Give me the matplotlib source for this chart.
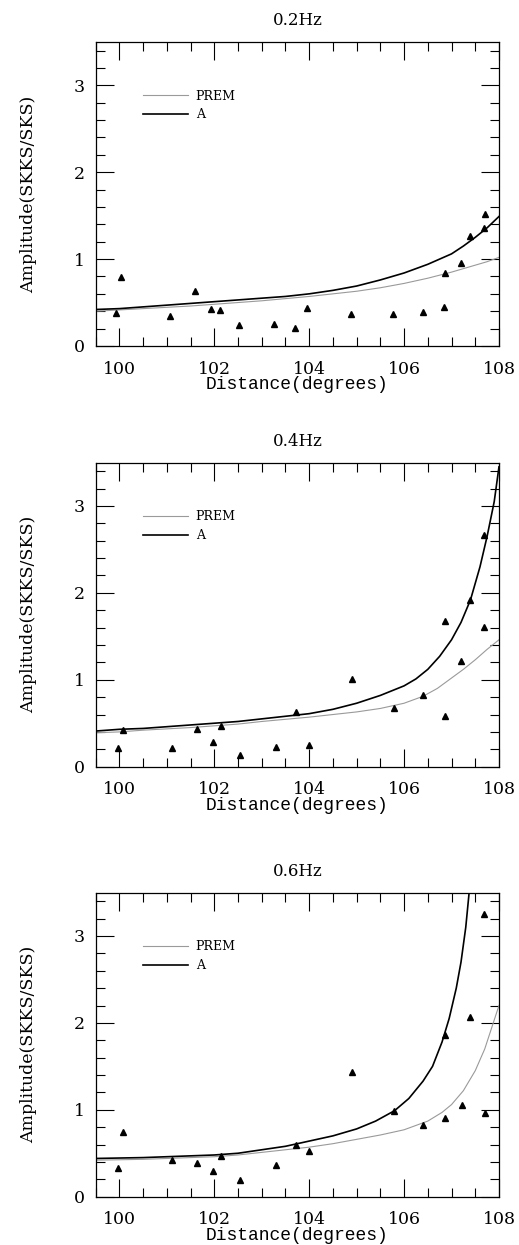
import matplotlib.pyplot as plt
from matplotlib.ticker import MultipleLocator

# observed SKKS/SKS amplitude ratios, three frequency bands
titles = ["0.2Hz", "0.4Hz", "0.6Hz"]

obs_x_02 = [99.92, 100.04, 101.07, 101.59, 101.94, 102.11, 102.51, 103.25, 103.70, 103.96,
            104.88, 105.76, 106.39, 106.84, 106.87, 107.20, 107.39, 107.68, 107.70]
obs_y_02 = [0.38, 0.79, 0.35, 0.63, 0.42, 0.41, 0.24, 0.25, 0.21, 0.44,
            0.37, 0.37, 0.39, 0.45, 0.84, 0.96, 1.27, 1.36, 1.52]

obs_x_04 = [99.97, 100.08, 101.11, 101.63, 101.98, 102.14, 102.54, 103.29, 103.73, 103.99,
            104.90, 105.78, 106.39, 106.86, 106.86, 107.21, 107.38, 107.68, 107.68]
obs_y_04 = [0.21, 0.42, 0.22, 0.43, 0.28, 0.47, 0.13, 0.23, 0.63, 0.25,
            1.01, 0.68, 0.83, 1.68, 0.58, 1.22, 1.92, 1.61, 2.67]

obs_x_06 = [99.96, 100.07, 101.11, 101.63, 101.97, 102.14, 102.54, 103.29, 103.73, 103.99,
            104.90, 105.79, 106.40, 106.87, 106.87, 107.23, 107.39, 107.70, 107.69]
obs_y_06 = [0.33, 0.75, 0.42, 0.39, 0.29, 0.47, 0.19, 0.36, 0.60, 0.53,
            1.44, 0.99, 0.82, 0.90, 1.86, 1.06, 2.07, 0.96, 3.25]

# model curves
prem_x_02 = [99.5, 100.0, 100.5, 101.0, 101.5, 102.0, 102.5, 103.0, 103.5, 104.0, 104.5,
             105.0, 105.5, 106.0, 106.5, 107.0, 107.25, 107.5, 107.75, 108.0]
prem_y_02 = [0.40, 0.415, 0.43, 0.445, 0.46, 0.48, 0.50, 0.52, 0.545, 0.57, 0.60,
             0.63, 0.67, 0.72, 0.78, 0.85, 0.89, 0.93, 0.97, 1.02]
a_x_02 = [99.5, 100.0, 100.5, 101.0, 101.5, 102.0, 102.5, 103.0, 103.5, 104.0, 104.5,
          105.0, 105.5, 106.0, 106.5, 107.0, 107.25, 107.5, 107.75, 108.0]
a_y_02 = [0.42, 0.43, 0.45, 0.47, 0.49, 0.51, 0.53, 0.55, 0.57, 0.60, 0.64,
          0.69, 0.76, 0.84, 0.94, 1.06, 1.15, 1.25, 1.36, 1.49]

prem_x_04 = [99.5, 100.0, 100.5, 101.0, 101.5, 102.0, 102.5, 103.0, 103.5, 104.0, 104.5,
             105.0, 105.5, 106.0, 106.4, 106.7, 107.0, 107.25, 107.5, 107.75, 108.0]
prem_y_04 = [0.39, 0.40, 0.42, 0.435, 0.45, 0.47, 0.49, 0.52, 0.545, 0.57, 0.60,
             0.63, 0.67, 0.73, 0.81, 0.90, 1.02, 1.12, 1.23, 1.35, 1.46]
a_x_04 = [99.5, 100.0, 100.5, 101.0, 101.5, 102.0, 102.5, 103.0, 103.5, 104.0, 104.5,
          105.0, 105.5, 106.0, 106.25, 106.5, 106.75, 107.0, 107.2, 107.4, 107.6,
          107.75, 107.9, 108.0]
a_y_04 = [0.41, 0.43, 0.44, 0.46, 0.48, 0.50, 0.52, 0.55, 0.58, 0.61, 0.66,
          0.73, 0.82, 0.93, 1.01, 1.12, 1.27, 1.46, 1.66, 1.92, 2.30,
          2.65, 3.05, 3.45]

prem_x_06 = [99.5, 100.0, 100.5, 101.0, 101.5, 102.0, 102.5, 103.0, 103.5, 104.0, 104.5,
             105.0, 105.5, 106.0, 106.5, 106.8, 107.0, 107.25, 107.5, 107.7, 107.85, 108.0]
prem_y_06 = [0.42, 0.425, 0.43, 0.44, 0.45, 0.46, 0.48, 0.51, 0.54, 0.57, 0.61,
             0.66, 0.71, 0.77, 0.87, 0.97, 1.06, 1.22, 1.45, 1.70, 1.95, 2.20]
a_x_06 = [99.5, 100.0, 100.5, 101.0, 101.5, 102.0, 102.5, 103.0, 103.5, 104.0, 104.5,
          105.0, 105.4, 105.8, 106.1, 106.4, 106.6, 106.8, 106.95, 107.1, 107.2,
          107.3, 107.38]
a_y_06 = [0.44, 0.445, 0.45, 0.46, 0.47, 0.48, 0.50, 0.54, 0.58, 0.64, 0.70,
          0.78, 0.87, 0.99, 1.13, 1.33, 1.50, 1.78, 2.05, 2.40, 2.70,
          3.10, 3.55]

obs_x = [obs_x_02, obs_x_04, obs_x_06]
obs_y = [obs_y_02, obs_y_04, obs_y_06]
prem_x = [prem_x_02, prem_x_04, prem_x_06]
prem_y = [prem_y_02, prem_y_04, prem_y_06]
a_x = [a_x_02, a_x_04, a_x_06]
a_y = [a_y_02, a_y_04, a_y_06]

plt.rcParams['font.family'] = ['DejaVu Serif']

fig = plt.figure(figsize=(5.19, 12.45), dpi=100)
bottoms = [0.7221, 0.3842, 0.0388]

for i in range(3):
    ax = fig.add_axes([0.1844, bottoms[i], 0.777, 0.2443])
    ax.plot(prem_x[i], prem_y[i], color='#9a9a9a', lw=0.8, label="PREM")
    ax.plot(a_x[i], a_y[i], color='black', lw=1.2, label="A")
    ax.plot(obs_x[i], obs_y[i], '^', color='black', ms=5, ls='none')

    ax.set_xlim(99.5, 108)
    ax.set_ylim(0, 3.5)
    ax.xaxis.set_major_locator(MultipleLocator(2))
    ax.xaxis.set_minor_locator(MultipleLocator(0.5))
    ax.yaxis.set_major_locator(MultipleLocator(1))
    ax.yaxis.set_minor_locator(MultipleLocator(0.2))
    ax.tick_params(which='both', direction='in', top=True, right=True, labelsize=12.5, width=0.8)
    ax.tick_params(which='major', length=13)
    ax.tick_params(which='minor', length=6.5)
    ax.tick_params(axis='x', pad=10.5)
    ax.tick_params(axis='y', pad=8)
    for s in ax.spines.values():
        s.set_linewidth(0.9)

    ax.set_title(titles[i], fontsize=12, pad=12)
    ax.set_xlabel("Distance(degrees)", family='Liberation Mono', fontsize=13, labelpad=-1)
    ax.set_ylabel("Amplitude(SKKS/SKS)", fontsize=12.5, labelpad=26)

    leg = ax.legend(loc='upper left', bbox_to_anchor=(0.09, 0.88), frameon=False,
                    fontsize=9, handlelength=3.6, handletextpad=0.6, labelspacing=0.45)

fig.savefig("out.png", dpi=100)
